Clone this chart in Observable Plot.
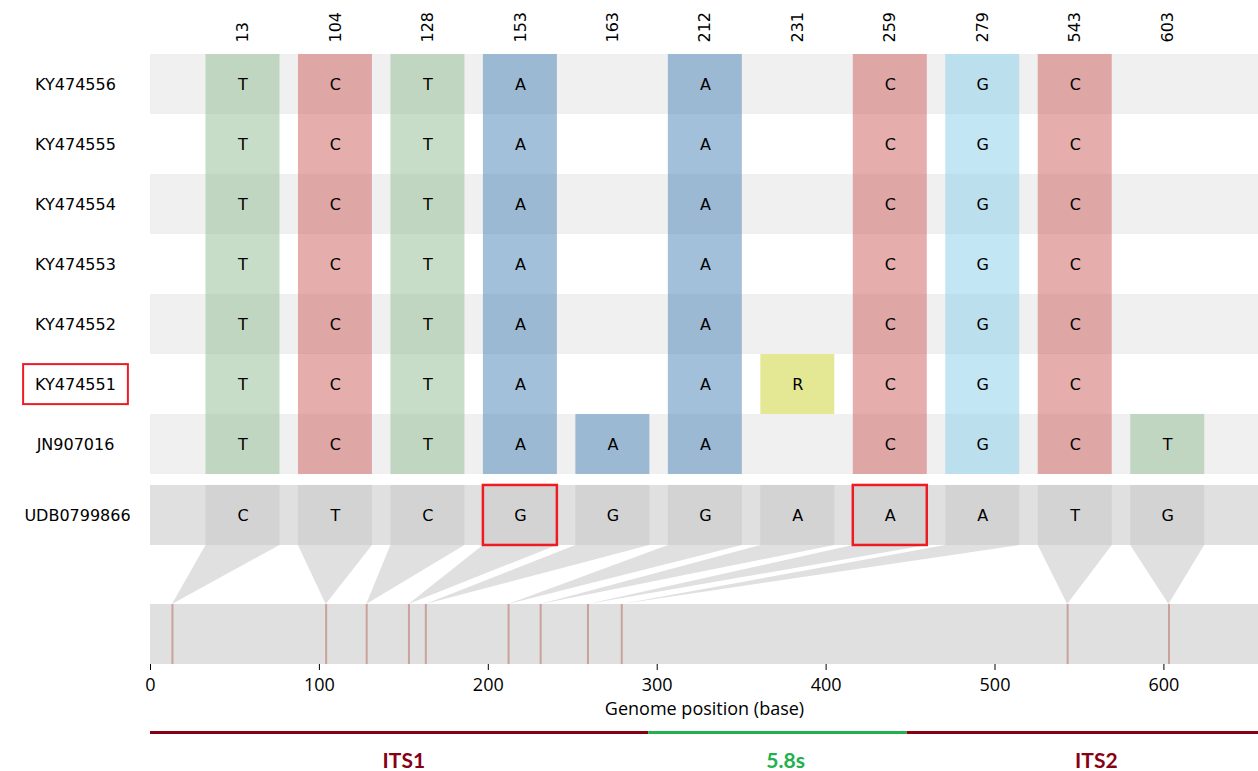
<!DOCTYPE html>
<html>
<head>
<meta charset="utf-8">
<script src="https://cdn.jsdelivr.net/npm/d3@7"></script>
<script src="https://cdn.jsdelivr.net/npm/@observablehq/plot@0.6"></script>
<style>
  html, body { margin: 0; padding: 0; background: #fff; overflow: hidden; }
  #chart svg { display: block; }
</style>
</head>
<body>
<div id="chart"></div>
<script>
// ---------------- data ----------------
const genomeLength = 656;
const positions = [13, 104, 128, 153, 163, 212, 231, 259, 279, 543, 603];
const samples = ["KY474556", "KY474555", "KY474554", "KY474553", "KY474552", "KY474551", "JN907016"];
const sampleBases = [
  ["T", "C", "T", "A", "", "A", "", "C", "G", "C", ""],
  ["T", "C", "T", "A", "", "A", "", "C", "G", "C", ""],
  ["T", "C", "T", "A", "", "A", "", "C", "G", "C", ""],
  ["T", "C", "T", "A", "", "A", "", "C", "G", "C", ""],
  ["T", "C", "T", "A", "", "A", "", "C", "G", "C", ""],
  ["T", "C", "T", "A", "", "A", "R", "C", "G", "C", ""],
  ["T", "C", "T", "A", "A", "A", "", "C", "G", "C", "T"]
];
const referenceName = "UDB0799866";
const referenceBases = ["C", "T", "C", "G", "G", "G", "A", "A", "A", "T", "G"];
const highlightSample = "KY474551";
const highlightPositions = [153, 259];
const axisTicks = [0, 100, 200, 300, 400, 500, 600];
const axisTitle = "Genome position (base)";
const regionNames = ["ITS1", "5.8s", "ITS2"];
const regionStart = [0, 295, 448];
const regionEnd = [295, 448, 672];
const regionLabelAt = [150, 376, 560];
const regionColors = ["#880015", "#22b14c", "#880015"];
const baseColors = { A: "steelblue", C: "indianred", G: "skyblue", T: "darkseagreen", R: "#c9d129" };

// ---------------- layout (in scale units) ----------------
const colStep = 54.75;          // genome units per column slot
const cellHalf = 0.4 * colStep;
const refTop = 7.183, refBottom = 8.183;
const trackTop = 9.167, trackBottom = 10.167;
const tickLen = 0.1, tickLabelY = 10.517, axisTitleY = 10.917;
const regionLineY = 11.3, regionLabelY = 11.783;

const cols = positions.map((p, i) => ({
  pos: p, i, cx: (i + 1) * colStep, cx1: (i + 1) * colStep - cellHalf, cx2: (i + 1) * colStep + cellHalf
}));

const cells = [];
samples.forEach((s, r) => sampleBases[r].forEach((b, c) => {
  if (b) cells.push({ sample: s, row: r, base: b, ...cols[c] });
}));
const refCells = referenceBases.map((b, c) => ({ base: b, ...cols[c], hl: highlightPositions.includes(positions[c]) }));
const stripes = samples.map((s, r) => ({ row: r, fill: r % 2 === 0 ? "#f0f0f0" : "#ffffff" }));

const connectors = [];
cols.forEach(c => {
  connectors.push({ id: c.i, y: refBottom, x1: c.cx1, x2: c.cx2 });
  connectors.push({ id: c.i, y: trackTop, x1: c.pos, x2: c.pos });
});

const regions = regionNames.map((n, i) => ({ name: n, start: regionStart[i], end: regionEnd[i], at: regionLabelAt[i], color: regionColors[i] }));

const grid = { fontFamily: "DejaVu Sans", fontSize: 16 };
const axisFont = { fontFamily: "Open Sans", fontSize: 18 };

const chart = Plot.plot({
  width: 1258,
  height: 771,
  marginLeft: 150,
  marginRight: 0,
  marginTop: 0,
  marginBottom: 107,
  x: { domain: [0, genomeLength], axis: null },
  y: { domain: [-0.9, trackBottom], range: [0, 664], axis: null },
  style: { fontFamily: "DejaVu Sans", fontSize: "16px", color: "black", background: "white", overflow: "hidden" },
  marks: [
    Plot.rect(stripes, { x1: 0, x2: genomeLength, y1: d => d.row, y2: d => d.row + 1, fill: d => d.fill }),
    Plot.rect([referenceName], { x1: 0, x2: genomeLength, y1: refTop, y2: refBottom, fill: "#e0e0e0" }),
    Plot.rect([0], { x1: 0, x2: genomeLength, y1: trackTop, y2: trackBottom, fill: "#e0e0e0" }),
    Plot.areaX(connectors, { y: "y", x1: "x1", x2: "x2", z: "id", fill: "#e0e0e0", curve: "linear" }),
    Plot.rect(cells, { x1: "cx1", x2: "cx2", y1: d => d.row, y2: d => d.row + 1, fill: d => baseColors[d.base], fillOpacity: 0.5 }),
    Plot.text(cells, { x: "cx", y: d => d.row + 0.5, text: "base", ...grid, fill: "black" }),
    Plot.rect(refCells, { x1: "cx1", x2: "cx2", y1: refTop, y2: refBottom, fill: "#d3d3d3" }),
    Plot.text(refCells, { x: "cx", y: (refTop + refBottom) / 2, text: "base", ...grid, fill: "black" }),
    Plot.rect(refCells.filter(d => d.hl), { x1: "cx1", x2: "cx2", y1: refTop, y2: refBottom, fill: "none", stroke: "#ed1c24", strokeWidth: 2.5 }),
    Plot.ruleX(positions, { x: d => d, y1: trackTop, y2: trackBottom, stroke: "#c9a29c", strokeWidth: 2 }),
    Plot.text(cols, { x: "cx", y: -0.2, text: d => String(d.pos), rotate: -90, textAnchor: "start", ...grid, fill: "black" }),
    Plot.text(samples, { frameAnchor: "left", dx: -75, y: (d, i) => i + 0.5, text: d => d, textAnchor: "middle", ...grid, fill: "black" }),
    Plot.text([referenceName], { frameAnchor: "left", dx: -73, y: (refTop + refBottom) / 2, text: d => d, textAnchor: "middle", ...grid, fill: "black" }),
    // x axis (ticks, labels, title) through the x scale
    Plot.ruleX(axisTicks, { x: d => d, y1: trackBottom, y2: trackBottom + tickLen, stroke: "black", strokeWidth: 1 }),
    Plot.text(axisTicks, { x: d => d, y: tickLabelY, text: d => String(d), ...axisFont, fill: "black" }),
    Plot.text([axisTitle], { frameAnchor: "middle", y: axisTitleY, text: d => d, textAnchor: "middle", ...axisFont, fill: "black" }),
    // regions
    Plot.ruleY(regions, { y: () => regionLineY, x1: "start", x2: "end", stroke: "color", strokeWidth: 3 }),
    Plot.text(regions, { x: "at", y: () => regionLabelY, text: "name", fill: "color", fontFamily: "Lato", fontWeight: "bold", fontSize: 21 })
  ]
});

document.getElementById("chart").appendChild(chart);

const svg = chart.tagName.toLowerCase() === "svg" ? chart : chart.querySelector("svg");

// red box around the highlighted sample label
const label = Array.from(svg.querySelectorAll("text")).find(t => t.textContent === highlightSample);
if (label) {
  const bb = label.getBBox();
  const ctm = label.getCTM();
  const sctm = svg.getCTM();
  let ox = 0, oy = 0;
  if (ctm && sctm) { ox = ctm.e - sctm.e; oy = ctm.f - sctm.f; }
  const padX = 12, padY = 10.5;
  const r = document.createElementNS("http://www.w3.org/2000/svg", "rect");
  r.setAttribute("x", bb.x + ox - padX);
  r.setAttribute("y", bb.y + oy - padY);
  r.setAttribute("width", bb.width + 2 * padX);
  r.setAttribute("height", bb.height + 2 * padY);
  r.setAttribute("fill", "none");
  r.setAttribute("stroke", "#ed1c24");
  r.setAttribute("stroke-width", 2);
  svg.appendChild(r);
}
</script>
</body>
</html>
